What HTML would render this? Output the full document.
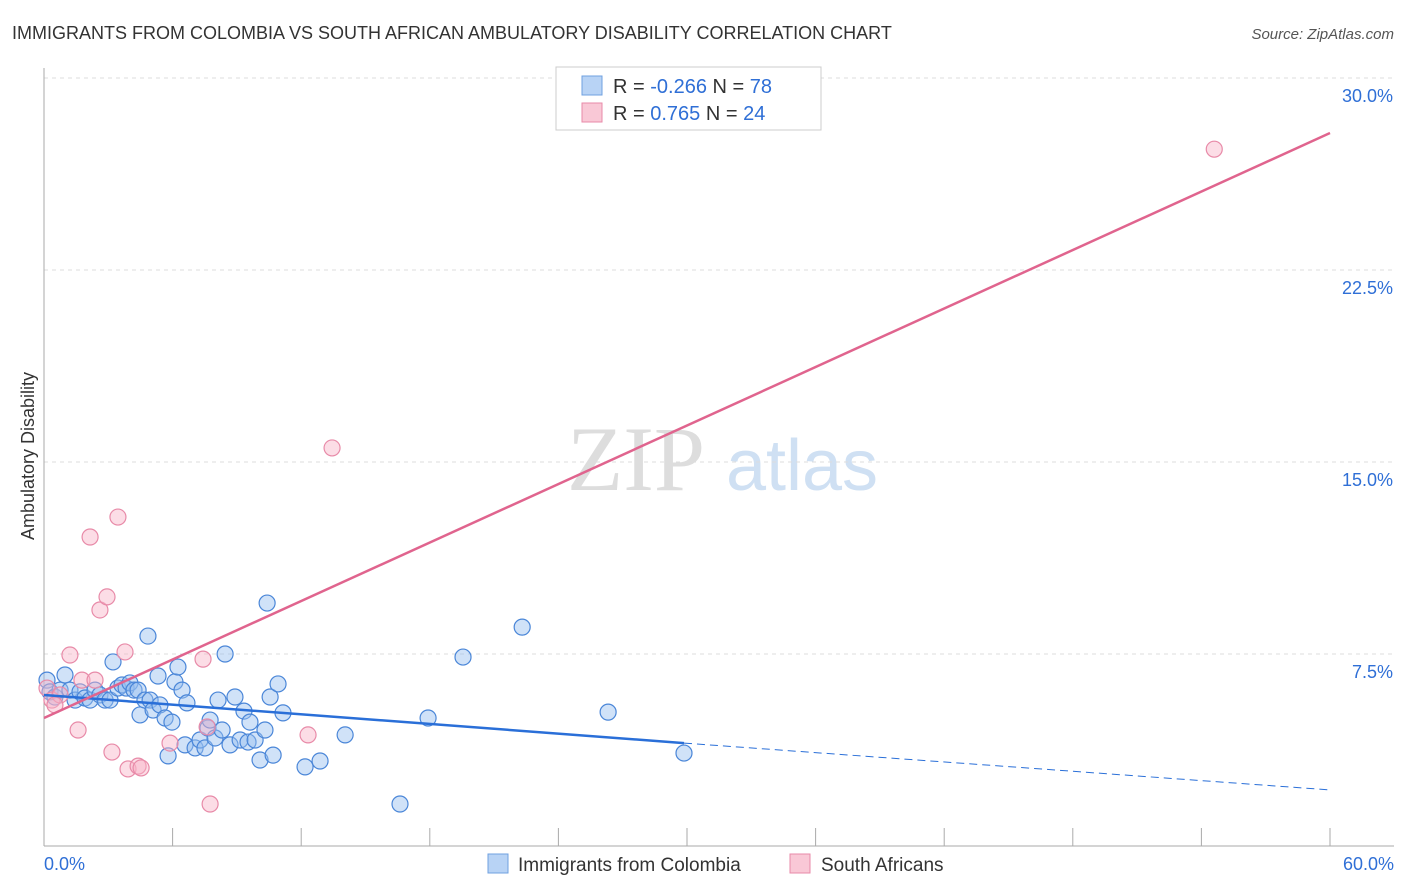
<!DOCTYPE html>
<html><head><meta charset="utf-8"><style>
body{margin:0;background:#fff;font-family:"Liberation Sans",sans-serif;}
svg{display:block}
</style></head><body>
<svg id="c" width="1406" height="892">
<text x="12" y="39" font-size="18" fill="#333">IMMIGRANTS FROM COLOMBIA VS SOUTH AFRICAN AMBULATORY DISABILITY CORRELATION CHART</text>
<text x="1394" y="39" font-size="15" fill="#555" font-style="italic" text-anchor="end">Source: ZipAtlas.com</text>
<text x="34" y="456" font-size="18" fill="#333" text-anchor="middle" transform="rotate(-90 34 456)">Ambulatory Disability</text>
<g><text x="636" y="490" font-size="92" fill="#ddd" font-family="Liberation Serif,serif" text-anchor="middle">ZIP</text><text x="802" y="490" font-size="72" fill="#cfe0f3" text-anchor="middle">atlas</text></g>
<g id="grid"></g><g id="marks"></g>
<g>
<rect x="556" y="67" width="265" height="63" fill="#fff" stroke="#ccc"/>
<rect x="582" y="76" width="20" height="19" fill="#b8d3f5" stroke="#6fa0e0"/>
<rect x="582" y="103" width="20" height="19" fill="#f9c8d6" stroke="#e88aa8"/>
<text x="613" y="93" font-size="20" fill="#333">R = <tspan fill="#2f6fd6">-0.266</tspan>   N = <tspan fill="#2f6fd6">78</tspan></text>
<text x="613" y="120" font-size="20" fill="#333">R =  <tspan fill="#2f6fd6"> 0.765</tspan>   N = <tspan fill="#2f6fd6">24</tspan></text>
</g>
<g>
<rect x="488" y="854" width="20" height="19" fill="#b8d3f5" stroke="#6fa0e0"/>
<text x="518" y="871" font-size="19" fill="#333">Immigrants from Colombia</text>
<rect x="790" y="854" width="20" height="19" fill="#f9c8d6" stroke="#e88aa8"/>
<text x="821" y="871" font-size="19" fill="#333">South Africans</text>
</g>
</svg>
<script>
const yTicks=[7.5,15,22.5,30];
const yTickLabels=["7.5%","15.0%","22.5%","30.0%"];
const xTickLabels=["0.0%","60.0%"];
const blueX=[0.14,0.28,0.51,0.75,0.98,1.21,1.45,1.68,1.91,2.15,2.38,2.61,2.85,3.08,3.22,3.45,3.64,3.83,4.01,4.20,4.39,4.48,4.71,4.85,4.95,5.09,5.32,5.41,5.65,5.79,5.97,6.11,6.25,6.44,6.58,6.67,7.05,7.28,7.51,7.65,7.75,7.98,8.12,8.31,8.45,8.68,8.91,9.15,9.33,9.52,9.61,9.85,10.08,10.31,10.41,10.55,10.69,10.92,11.15,12.18,12.88,14.05,16.61,17.92,19.55,22.31,26.32,29.86];
const blueY=[6.48,6.02,5.82,6.09,6.68,6.09,5.70,6.02,5.78,5.70,6.09,5.90,5.70,5.70,7.19,6.17,6.29,6.17,6.37,6.09,6.09,5.12,5.70,8.20,5.70,5.31,6.64,5.51,5.00,3.52,4.84,6.41,6.99,6.09,3.95,5.59,3.83,4.14,3.83,4.61,4.92,4.22,5.70,4.53,7.50,3.95,5.82,4.14,5.27,4.06,4.84,4.14,3.36,4.53,9.49,5.82,3.55,6.33,5.20,3.09,3.32,4.34,1.64,5.00,7.38,8.55,5.23,3.63];
const pinkX=[0.14,0.37,0.75,1.21,1.59,1.77,2.15,2.38,2.61,2.94,3.17,3.45,3.78,3.92,4.39,4.53,5.88,7.42,7.61,7.75,12.32,13.44,54.6,0.51];
const pinkY=[6.17,5.70,5.90,7.46,4.53,6.48,12.07,6.48,9.22,9.73,3.67,12.85,7.58,3.01,3.12,3.05,4.02,7.30,4.65,1.64,4.34,15.55,27.22,5.51];
const blueTrend=[[0,5.90],[29.86,4.02],[60,2.19]];
const pinkTrend=[[0,5.00],[60,27.85]];
const X=v=>44+v/60*1286, Y=v=>846-v/30*768;
const NS="http://www.w3.org/2000/svg";
function mk(p,t,a){const e=document.createElementNS(NS,t);for(const k in a)e.setAttribute(k,a[k]);p.appendChild(e);return e;}
const g=document.getElementById('grid'),m=document.getElementById('marks');
yTicks.forEach((t,i)=>{
 const l=mk(g,'line',{x1:44,x2:1394,y1:Y(t),y2:Y(t),stroke:'#ddd','stroke-dasharray':'4,4'});
 
 
 const tx=mk(g,'text',{x:1393,y:Y(t)+24,'font-size':18,fill:'#2f6fd6','text-anchor':'end'});tx.textContent=yTickLabels[i];
 
 
});
mk(g,'line',{x1:44,x2:44,y1:68,y2:846,stroke:'#aaa'});
mk(g,'line',{x1:44,x2:1394,y1:846,y2:846,stroke:'#aaa'});
for(let i=0;i<=10;i++){const l=mk(g,'line',{x1:X(i*6),x2:X(i*6),y1:828,y2:846,stroke:'#aaa'});
 
 }
[[0,'start',44],[60,'end',1394]].forEach((d,i)=>{const t=mk(g,'text',{x:d[2],y:870,'font-size':18,fill:'#2f6fd6','text-anchor':d[1]});t.textContent=xTickLabels[i];
 
 });
blueX.forEach((x,i)=>{const c=mk(m,'circle',{cx:X(x),cy:Y(blueY[i]),r:8,fill:'rgba(150,190,240,0.45)',stroke:'#4a86d8','stroke-width':1.2});
 
 });
pinkX.forEach((x,i)=>{const c=mk(m,'circle',{cx:X(x),cy:Y(pinkY[i]),r:8,fill:'rgba(248,180,200,0.45)',stroke:'#e88aa8','stroke-width':1.2});
 
 });
const b1=mk(m,'line',{x1:X(blueTrend[0][0]),y1:Y(blueTrend[0][1]),x2:X(blueTrend[1][0]),y2:Y(blueTrend[1][1]),stroke:'#2a6fd8','stroke-width':2.5});


const b2=mk(m,'line',{x1:X(blueTrend[1][0]),y1:Y(blueTrend[1][1]),x2:X(blueTrend[2][0]),y2:Y(blueTrend[2][1]),stroke:'#2a6fd8','stroke-width':1,'stroke-dasharray':'8,5'});


const p1=mk(m,'line',{x1:X(pinkTrend[0][0]),y1:Y(pinkTrend[0][1]),x2:X(pinkTrend[1][0]),y2:Y(pinkTrend[1][1]),stroke:'#e0648e','stroke-width':2.5});


</script>
</body></html>
